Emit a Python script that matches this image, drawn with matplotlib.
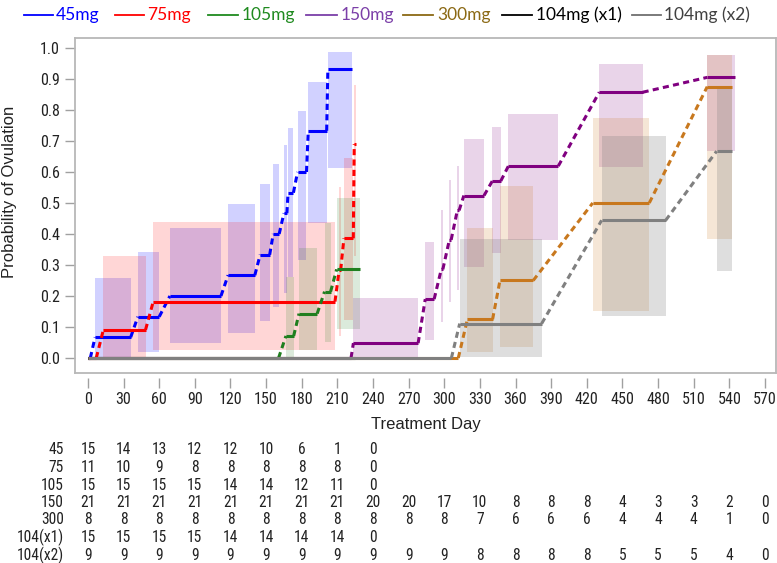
import os
import numpy as np
import matplotlib
matplotlib.use('Agg')
import matplotlib.pyplot as plt
from matplotlib.lines import Line2D
import matplotlib.transforms as mtransforms
from matplotlib import font_manager as fm

nan = np.nan

# ---------------- data ----------------
series_names = ['45mg', '75mg', '105mg', '150mg', '300mg', '104mg (x1)', '104mg (x2)']

# 45mg
s45_start = [0, 6, 42, 69, 118, 145, 156, 165, 168.5, 176.5, 185.5, 202]
s45_end   = [2, 36, 60, 112, 140.5, 153, 161, 167.5, 173, 184, 201, 222]
s45_p     = [0, 0.067, 0.133, 0.200, 0.267, 0.333, 0.400, 0.467, 0.533, 0.600, 0.733, 0.933]
s45_lo    = [nan, 0.004, 0.020, 0.047, 0.082, 0.120, 0.165, 0.210, 0.260, 0.316, 0.436, 0.614]
s45_hi    = [nan, 0.259, 0.343, 0.420, 0.496, 0.561, 0.626, 0.687, 0.743, 0.795, 0.889, 0.988]

# 75mg
s75_start = [0, 13, 55, 211.5, 215.5, 224.2]
s75_end   = [7, 48.5, 208, 212.8, 223.4, 225.3]
s75_p     = [0, 0.091, 0.182, 0.284, 0.386, 0.690]
s75_lo    = [nan, 0.004, 0.026, 0.070, 0.123, 0.330]
s75_hi    = [nan, 0.329, 0.440, 0.553, 0.644, 0.880]

# 105mg
s105_start = [0, 166.7, 177.7, 199.2, 209.4]
s105_end   = [160.5, 173.2, 193, 204.3, 229]
s105_p     = [0, 0.071, 0.143, 0.214, 0.286]
s105_lo    = [nan, 0.004, 0.026, 0.053, 0.092]
s105_hi    = [nan, 0.262, 0.354, 0.436, 0.515]

# 150mg
s150_start = [0, 223.5, 284, 297.5, 304.3, 311, 316.5, 340.5, 354, 430.5, 521.4]
s150_end   = [221.5, 278, 291.5, 298.8, 305.8, 312.5, 333.5, 347.6, 396, 467, 545]
s150_p     = [0, 0.048, 0.190, 0.286, 0.381, 0.476, 0.524, 0.571, 0.619, 0.857, 0.905]
s150_lo    = [nan, 0.001, 0.058, 0.117, 0.180, 0.219, 0.295, 0.338, 0.381, 0.617, 0.669]
s150_hi    = [nan, 0.195, 0.375, 0.477, 0.574, 0.620, 0.705, 0.746, 0.786, 0.948, 0.977]

# 300mg
s300_start = [0, 319.5, 346.9, 425, 521.4]
s300_end   = [311.8, 340.7, 374.9, 472.6, 542.2]
s300_p     = [0, 0.125, 0.250, 0.500, 0.875]
s300_lo    = [nan, 0.020, 0.036, 0.153, 0.384]
s300_hi    = [nan, 0.420, 0.556, 0.773, 0.977]

# 104mg (x1)
s104a_start = [0]
s104a_end   = [225]
s104a_p     = [0]
s104a_lo    = [nan]
s104a_hi    = [nan]

# 104mg (x2)
s104b_start = [0, 313, 432.5, 529.3]
s104b_end   = [306, 382, 486.4, 541.9]
s104b_p     = [0, 0.111, 0.444, 0.667]
s104b_lo    = [nan, 0.004, 0.135, 0.281]
s104b_hi    = [nan, 0.383, 0.716, 0.867]

# number at risk table
risk_days = list(range(0, 571, 30))
risk_labels = ['45', '75', '105', '150', '300', '104(x1)', '104(x2)']
risk_45   = [15, 14, 13, 12, 12, 10, 6, 1, 0]
risk_75   = [11, 10, 9, 8, 8, 8, 8, 8, 0]
risk_105  = [15, 15, 15, 15, 14, 14, 12, 11, 0]
risk_150  = [21, 21, 21, 21, 21, 21, 21, 21, 20, 20, 17, 10, 8, 8, 8, 4, 3, 3, 2, 0]
risk_300  = [8, 8, 8, 8, 8, 8, 8, 8, 8, 8, 8, 7, 6, 6, 6, 4, 4, 4, 1, 0]
risk_104a = [15, 15, 15, 15, 14, 14, 14, 14, 0]
risk_104b = [9, 9, 9, 9, 9, 9, 9, 9, 9, 9, 9, 8, 8, 8, 8, 5, 5, 5, 4, 0]

y_ticks = [round(0.1 * i, 1) for i in range(11)]

# ---------------- fonts ----------------
def find_narrow():
    prefs = ['LiberationSansNarrow-Regular', 'ArialNarrow', 'RobotoCondensed-Regular',
             'Roboto_Condensed-Regular', 'DejaVuSansCondensed.ttf', 'NotoSans-Condensed.ttf',
             'NotoSans_Condensed-Regular', 'OpenSans_Condensed-Regular', 'OpenSansCondensed-Regular']
    files = [f.fname for f in fm.fontManager.ttflist]
    for p in prefs:
        for fn in files:
            if p.lower() in os.path.basename(fn).lower():
                return fn
    return None

narrow_file = find_narrow()
if narrow_file:
    def NF(size):
        return fm.FontProperties(fname=narrow_file, size=size)
    tick_size, risk_size = 11.5, 11.2
else:
    def NF(size):
        return fm.FontProperties(family='Liberation Sans', size=size)
    tick_size, risk_size = 10, 10

def LF(size):
    return fm.FontProperties(family=['Liberation Sans', 'DejaVu Sans'], size=size)

plt.rcParams['font.family'] = ['Liberation Sans', 'DejaVu Sans']

# ---------------- style ----------------
line_colors = ['#0000ff', '#ff0000', '#1f7f1f', '#800080', '#c8781e', '#000000', '#808080']
box_alpha   = [0.18, 0.16, 0.16, 0.17, 0.18, 0.0, 0.26]
legend_line_colors = ['#0000ff', '#ff0000', '#1f8a1f', '#7b3fa8', '#8b6914', '#000000', '#707070']
legend_text_colors = ['#0000ff', '#ff0000', '#1f8a1f', '#7b3fa8', '#8b6914', '#000000', '#404040']
txt_color = '#222222'

W, H = 777, 563
fig = plt.figure(figsize=(W / 100, H / 100), dpi=100)
ax_left, ax_right, ax_top, ax_bot = 75, 776, 38, 373
ax = fig.add_axes([ax_left / W, 1 - ax_bot / H, (ax_right - ax_left) / W, (ax_bot - ax_top) / H])

data = [
    (s45_start, s45_end, s45_p, s45_lo, s45_hi),
    (s75_start, s75_end, s75_p, s75_lo, s75_hi),
    (s105_start, s105_end, s105_p, s105_lo, s105_hi),
    (s150_start, s150_end, s150_p, s150_lo, s150_hi),
    (s300_start, s300_end, s300_p, s300_lo, s300_hi),
    (s104a_start, s104a_end, s104a_p, s104a_lo, s104a_hi),
    (s104b_start, s104b_end, s104b_p, s104b_lo, s104b_hi),
]

# boxes
for k, (st, en, p, lo, hi) in enumerate(data):
    st = np.array(st, float); en = np.array(en, float)
    lo = np.array(lo, float); hi = np.array(hi, float)
    m = ~np.isnan(lo)
    if m.any() and box_alpha[k] > 0:
        ax.bar(st[m], hi[m] - lo[m], width=en[m] - st[m], bottom=lo[m], align='edge',
               color=line_colors[k], alpha=box_alpha[k], linewidth=0, zorder=1)

# lines
for k, (st, en, p, lo, hi) in enumerate(data):
    c = line_colors[k]
    for i in range(len(st)):
        ax.plot([st[i], en[i]], [p[i], p[i]], color=c, lw=2.2, solid_capstyle='butt', zorder=3 + k * 0.1)
        if i > 0:
            ax.plot([en[i - 1], st[i]], [p[i - 1], p[i]], color=c, lw=2.2,
                    dashes=(2.0, 1.4), dash_capstyle='butt', zorder=3 + k * 0.1)

ax.set_xlim(-10.9, 579.3)
ax.set_ylim(-0.0484, 1.032)
ax.set_yticks(y_ticks)
ax.set_yticklabels([f'{v:.1f}' for v in y_ticks])
ax.tick_params(axis='y', direction='out', length=7, width=1, color='#a0a0a0',
               labelcolor=txt_color, pad=4)
for t in ax.get_yticklabels():
    t.set_fontproperties(NF(tick_size))
ax.tick_params(axis='x', bottom=False, labelbottom=False)
for s in ax.spines.values():
    s.set_color('#b8b8b8')
    s.set_linewidth(1.3)

sec = ax.secondary_xaxis(-0.016)
sec.set_xticks(risk_days)
sec.set_xticklabels([str(d) for d in risk_days])
sec.spines['bottom'].set_visible(False)
sec.tick_params(axis='x', direction='out', length=7, width=1, color='#a0a0a0',
                labelcolor=txt_color, pad=2.5)
for t in sec.get_xticklabels():
    t.set_fontproperties(NF(tick_size))

fig.text((ax_left + ax_right) / 2 / W, 1 - 425 / H, 'Treatment Day', ha='center', va='center',
         fontproperties=LF(12), color=txt_color)
fig.text(10 / W, 1 - 192 / H, 'Probability of Ovulation', ha='center', va='center',
         rotation=90, fontproperties=LF(12), color=txt_color)

# risk table
trans = mtransforms.blended_transform_factory(ax.transData, fig.transFigure)
risk_rows = [risk_45, risk_75, risk_105, risk_150, risk_300, risk_104a, risk_104b]
row_y = [450, 467.5, 485, 502.5, 520, 537.5, 555]
for lab, vals, yy in zip(risk_labels, risk_rows, row_y):
    fig.text(64 / W, 1 - yy / H, lab, ha='right', va='center', fontproperties=NF(risk_size),
             color=txt_color)
    for d, v in zip(risk_days, vals):
        ax.text(d, 1 - yy / H, str(v), transform=trans, ha='center', va='center',
                fontproperties=NF(risk_size), color=txt_color, clip_on=False)

# legend (top)
leg_line_x = [(24, 53), (115, 144), (208, 238), (306, 337), (403, 433), (502, 532), (632, 661)]
leg_text_x = [56, 147, 242, 341, 437, 536, 664]
leg_y = 15
for k in range(7):
    x0, x1 = leg_line_x[k]
    fig.add_artist(Line2D([x0 / W, x1 / W], [1 - leg_y / H, 1 - leg_y / H], color=legend_line_colors[k],
                          lw=1.3, transform=fig.transFigure))
    fig.text(leg_text_x[k] / W, 1 - leg_y / H, series_names[k], ha='left', va='center',
             fontsize=12.5, color=legend_text_colors[k], family=['Lato', 'DejaVu Sans'])

fig.savefig('out.png', dpi=100)
